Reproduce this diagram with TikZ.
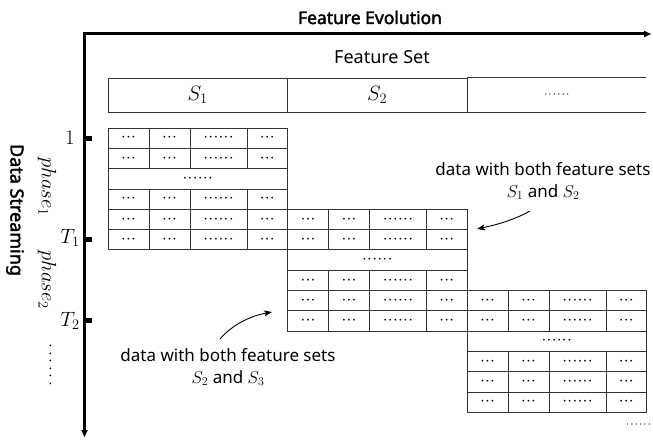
\documentclass[tikz,border=0pt]{standalone}
\usepackage{fontspec}
\newfontfamily\sansf{Noto Sans}
\newfontfamily\sansbf{Noto Sans}[FakeBold=2.2]
\usetikzlibrary{arrows.meta}
\newcommand\cd{\makebox[5.1pt]{$\cdot$}}
\newcommand\hd{\makebox[4.4pt]{$\cdot$}}
\newcommand\vdt{\makebox[7.6pt]{$\cdot$}}
\begin{document}
\begin{tikzpicture}[x=1pt,y=-1pt,
  tbl/.style={draw=black!80, line width=0.8pt},
  cell/.style={tbl, minimum height=20.3pt, inner sep=0pt, font=\fontsize{16}{16}\selectfont},
  hcell/.style={tbl, minimum height=34pt, minimum width=179.5pt, inner sep=0pt, font=\fontsize{21}{21}\selectfont},
  lbl/.style={font=\fontsize{20}{20}\selectfont, inner sep=0pt},
  ann/.style={font=\sansf\fontsize{17}{22}\selectfont, align=center, inner sep=0pt},
  ttl/.style={font=\sansbf\fontsize{17.5}{17.5}\selectfont, inner sep=0pt},
  axisline/.style={line width=3pt, line join=miter, {Latex[length=8pt,width=7pt]}-{Latex[length=8pt,width=7pt]}},
  tickmark/.style={fill=black, minimum width=6pt, minimum height=5pt, inner sep=0pt},
  pointer/.style={line width=0.9pt, -{Stealth[length=8pt,width=6pt,inset=2pt]}},
]
\fill[white] (0,0) rectangle (653,441);
\useasboundingbox (0,0) rectangle (653,441);

% axes
\coordinate (O) at (84.5,34);
\coordinate (xe) at (652,34);
\coordinate (ye) at (84.5,438);
\draw[axisline] (xe) -- (O) -- (ye);

% titles
\node[ttl, anchor=base] (fe) at (370,24) {Feature Evolution};
\node[font=\sansf\fontsize{18}{18}\selectfont, inner sep=0pt, anchor=base] (fs) at (382,64) {Feature Set};
\node[ttl, font=\sansbf\fontsize{18}{18}\selectfont, rotate=-90] (ds) at (15,210) {Data Streaming};

% header
\node[hcell] (h1) at (197.75,95) {$S_1$};
\node[hcell] (h2) at (377.25,95) {$S_2$};
\node[font=\fontsize{13}{13}\selectfont, inner sep=0pt] (h3) at (556.75,95) {\hd\hd\hd\hd\hd\hd};
\draw[tbl] (h2.north east) -- ++(179,0);
\draw[tbl] (h2.south east) -- ++(179,0);

% data blocks
\foreach \b in {0,1,2}{
  \foreach \r in {0,1,3,4,5}{
    \foreach \c/\o/\w in {1/0/41,2/41/41,3/82/57,4/139/40.5}{
      \node[cell, minimum width=\w] (c\b\r\c) at ({108+179.5*\b+\o+\w/2},{128+20.3*(4*\b+\r)+10.15})
        {\ifnum\c=3 \cd\cd\cd\cd\cd\cd\else\cd\cd\cd\fi};
    }
  }
  \node[cell, minimum width=179.5] (m\b) at ({108+179.5*\b+89.75},{128+20.3*(4*\b+2)+10.15}) {\cd\cd\cd\cd\cd\cd};
}
\node[font=\fontsize{13}{13}\selectfont, inner sep=0pt, anchor=east] (bd) at (652,425) {\hd\hd\hd\hd\hd\hd};

% left labels and ticks
\node[tickmark] (k1) at (89,138.15) {};
\node[tickmark] (k2) at (89,239.65) {};
\node[tickmark] (k3) at (89,320.85) {};
\node[lbl] (l1) at (70,138) {$1$};
\node[lbl] (lT1) at (70,238) {$T_1$};
\node[lbl] (lT2) at (70,321) {$T_2$};
\node[lbl, rotate=-90] (p1) at (47,187) {$phase_1$};
\node[lbl, rotate=-90] (p2) at (47,280) {$phase_2$};
\node[font=\fontsize{18}{18}\selectfont, inner sep=0pt, rotate=-90] (vd) at (50,365) {\vdt\vdt\vdt\vdt\vdt\vdt};

% annotations
\node[ann] (a1) at (543,181) {data with both feature sets\\$S_1$ and $S_2$};
\node[ann] (a2) at (228,367) {data with both feature sets\\$S_2$ and $S_3$};
\coordinate (a1s) at (530,211);
\coordinate (a1e) at (477,229);
\draw[pointer] (a1s) .. controls (512,221) and (495,225) .. (a1e);
\coordinate (a2s) at (220,339);
\coordinate (a2e) at (272,312);
\draw[pointer] (a2s) .. controls (232,325) and (250,316) .. (a2e);
\end{tikzpicture}
\end{document}
